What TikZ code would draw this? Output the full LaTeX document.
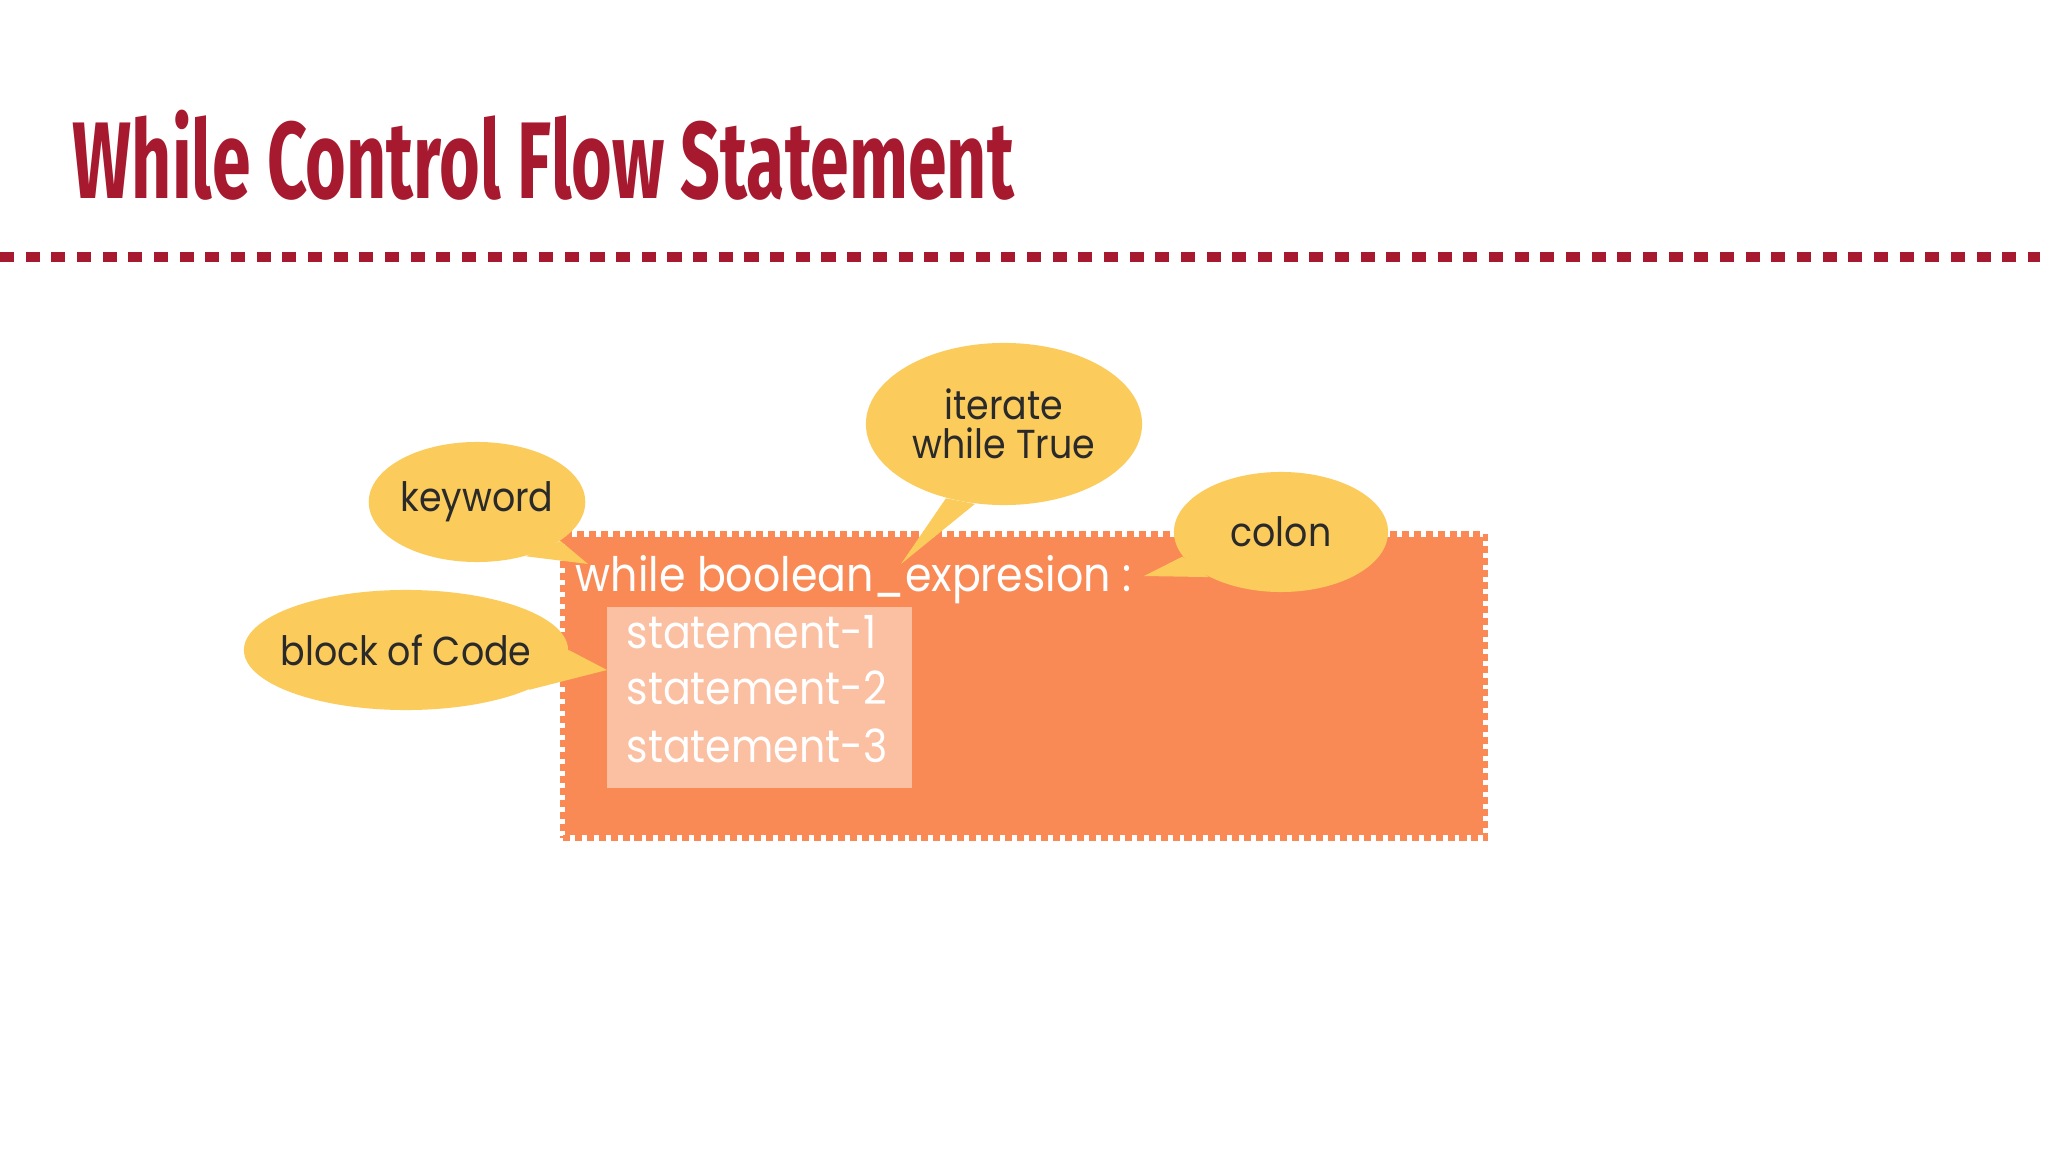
\documentclass[tikz,border=0pt]{standalone}
\usepackage{fontspec}
\setmainfont{Poppins}
\newfontfamily\titlefont[FakeStretch=0.64]{Fira Sans}
\newfontfamily\codefont[FakeStretch=0.9]{Poppins}
\usetikzlibrary{shapes.geometric,positioning}
\definecolor{titlered}{HTML}{A6192E}
\definecolor{boxorange}{HTML}{F98A55}
\definecolor{stmtfill}{HTML}{FBBFA2}
\definecolor{bubble}{HTML}{FBCB5B}
\definecolor{bubbletext}{HTML}{2A2A2A}
\tikzset{
  heading/.style={
    anchor=base west,
    inner sep=0pt,
    text=titlered,
    font=\titlefont\bfseries\fontsize{31}{36}\selectfont
  },
  codebox/.style={
    rectangle,
    fill=boxorange,
    draw=white,
    line width=1.5pt,
    postaction={draw=boxorange, dash pattern=on 2pt off 1.4pt}
  },
  stmtbox/.style={
    rectangle,
    fill=stmtfill,
    inner sep=0pt
  },
  codetext/.style={
    anchor=base west,
    inner sep=0pt,
    text=white,
    font=\codefont\fontsize{13.5}{16}\selectfont
  },
  callout/.style={
    ellipse,
    fill=bubble,
    inner sep=0pt,
    text=bubbletext,
    align=center,
    font=\codefont\fontsize{11.5}{11.2}\selectfont
  },
  tail/.style={
    fill=bubble
  }
}

\begin{document}
\begin{tikzpicture}[x=0.01cm, y=-0.01cm]
  \useasboundingbox[fill=white] (0,0) rectangle (2048,1152);

  % title and rule
  \node[heading] (title) at (72,199) {While Control Flow Statement};
  \coordinate (ruleL) at (0,257);
  \coordinate (ruleR) at (2040,257);
  \draw[titlered, line width=2.8pt, dash pattern=on 4pt off 3.3pt] (ruleL) -- (ruleR);

  % code block
  \node[codebox, minimum width=9.22cm, minimum height=3.04cm] (block) at (1024,686) {};
  \node[stmtbox, minimum width=3.05cm, minimum height=1.81cm] (stmts) at (759.5,697.5) {};
  \node[codetext] (head) at (575,592) {while boolean\_expresion :};
  \node[codetext, font=\codefont\fontsize{13}{16}\selectfont] (s1) at (626,649) {statement-1};
  \node[codetext, font=\codefont\fontsize{13}{16}\selectfont] (s2) at (626,705) {statement-2};
  \node[codetext, font=\codefont\fontsize{13}{16}\selectfont] (s3) at (626,762) {statement-3};

  % callouts
  \node[callout, minimum width=2.16cm, minimum height=1.2cm] (keyword) at (477,502) {keyword};
  \node[callout, minimum width=2.76cm, minimum height=1.62cm] (iterate) at (1004,424) {iterate\\while True};
  \node[callout, minimum width=2.14cm, minimum height=1.2cm] (colon) at (1281,532) {colon};
  \node[callout, inner xsep=-0.11cm, minimum width=3.24cm, minimum height=1.2cm] (code) at (406,650) {block of Code};

  \coordinate (keywordtip) at (588,564);
  \coordinate (iteratetip) at (901,564);
  \coordinate (colontip) at (1144,576);
  \coordinate (codetip) at (607,670);

  \fill[tail] (keyword.-25) -- (keywordtip) -- (keyword.-48) -- cycle;
  \fill[tail] (iterate.-110) -- (iteratetip) -- (iterate.-128) -- cycle;
  \fill[tail] (colon.-148) -- (colontip) -- (colon.-166) -- cycle;
  \fill[tail] (code.0) -- (codetip) -- (code.-18) -- cycle;
\end{tikzpicture}
\end{document}
